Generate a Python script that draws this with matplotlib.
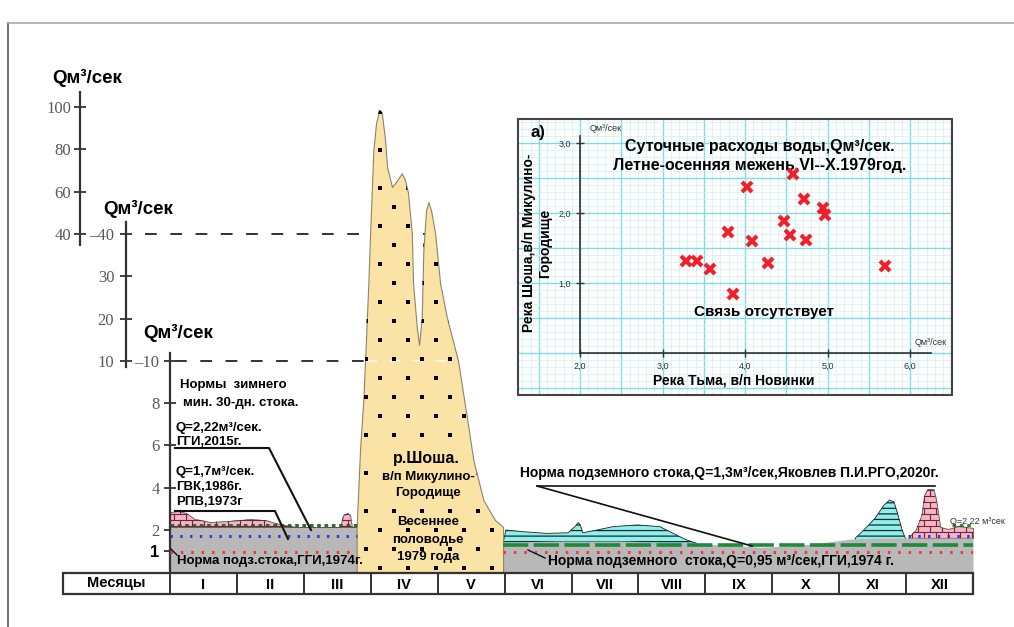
import numpy as np
import matplotlib
matplotlib.use("Agg")
import matplotlib.pyplot as plt
from matplotlib.collections import LineCollection
from matplotlib.patches import Rectangle

plt.rcParams['font.family'] = ['Liberation Sans', 'DejaVu Sans']
plt.rcParams['hatch.linewidth'] = 0.9

# ---------------- data ----------------
# months counted from 1 January (0..12); discharge Q, m3/s
months = ['I', 'II', 'III', 'IV', 'V', 'VI', 'VII', 'VIII', 'IX', 'X', 'XI', 'XII']

# winter low flow (I-III)
winter_t = [0.0, 0.12, 0.24, 0.37, 0.60, 0.90, 1.20, 1.42, 1.64, 1.87, 2.54, 2.59, 2.65, 2.69, 2.72, 2.79]
winter_top = [2.84, 2.89, 2.80, 2.51, 2.37, 2.42, 2.51, 2.46, 2.27, 2.13, 2.13, 2.70, 2.80, 2.70, 2.13, 2.13]
winter_base = 2.13

# spring flood 1979 (IV-V)
flood_t = [2.79, 2.80, 2.84, 2.889, 2.915, 2.964, 2.99, 3.039, 3.079, 3.129, 3.164, 3.214,
           3.244, 3.318, 3.378, 3.463, 3.513, 3.557, 3.613, 3.632, 3.688, 3.722, 3.762,
           3.786, 3.827, 3.861, 3.90, 3.961, 4.036, 4.136, 4.305, 4.435, 4.533, 4.683,
           4.858, 4.978]
flood_q = [2.13, 2.94, 5.78, 8.15, 10.0, 28.4, 40.0, 79.7, 92.4, 98.6, 97.5, 84.4,
           71.6, 62.2, 64.6, 68.7, 65.4, 59.4, 40.5, 28.4, 18.0, 13.8, 20.4,
           36.2, 51.3, 55.1, 51.3, 40.5, 28.4, 20.4, 10.0, 7.36, 5.31, 3.41,
           2.46, 2.13]

# summer-autumn base flow (VI-XII)
summer_t = [4.98, 5.85, 6.75, 7.80, 8.25, 8.82, 9.27, 9.71, 10.16, 10.61, 12.0]
summer_base = [1.42, 1.47, 1.47, 1.37, 1.28, 1.18, 1.23, 1.37, 1.56, 1.61, 1.61]

# rain floods
rain_t = [4.98, 5.02, 5.28, 5.63, 5.95, 6.05, 6.10, 6.13, 6.17, 6.38, 6.62, 6.98, 7.32, 7.52, 7.72, 7.87]
rain_q = [1.42, 1.99, 1.91, 1.83, 1.86, 2.15, 2.34, 2.23, 1.86, 1.99, 2.15, 2.23, 2.15, 1.83, 1.52, 1.36]
autumn_t = [10.24, 10.40, 10.54, 10.66, 10.75, 10.82, 10.88, 10.94, 10.99]
autumn_q = [1.60, 2.09, 2.56, 3.13, 3.41, 3.32, 2.70, 1.99, 1.60]

# december (ice) flow
dec_t = [11.03, 11.14, 11.23, 11.27, 11.32, 11.41, 11.45, 11.51, 11.63, 11.78, 12.0]
dec_q = [1.61, 1.99, 2.70, 3.65, 3.93, 3.93, 3.41, 2.13, 2.04, 2.18, 2.09]
dec_base = 1.61

# norms of discharge
norm_ggi_2015 = 2.22
norm_gvk_1986 = 1.7
norm_ggi_1974 = 0.95
norm_rgo_2020 = 1.3

# axis ticks
lower_ticks = [1, 2, 4, 6, 8, 10]
mid_ticks = [10, 20, 30, 40]
top_ticks = [40, 60, 80, 100]

# inset: daily discharges, summer-autumn low water 1979
tma_q = [3.29, 3.42, 3.57, 3.79, 3.85, 4.02, 4.08, 4.28, 4.47, 4.54, 4.58, 4.72, 4.74, 4.94, 4.97, 5.70]
shosha_q = [1.32, 1.32, 1.20, 1.73, 0.85, 2.37, 1.60, 1.29, 1.89, 1.69, 2.56, 2.20, 1.62, 2.07, 1.97, 1.24]

# ---------------- layout ----------------
W, H = 1014, 627
fig = plt.figure(figsize=(W / 100, H / 100), dpi=100)


def fpos(x0, y0, x1, y1):
    return [x0 / W, 1 - y1 / H, (x1 - x0) / W, (y1 - y0) / H]


# broken (piecewise) vertical scale: 0-10, 10-40, 40-100
def fwd(v):
    v = np.asarray(v, dtype=float)
    return np.where(v <= 10, v * 21.1,
                    np.where(v <= 40, 211 + (v - 10) * 4.23, 338 + (v - 40) * 2.117))


def inv(h):
    h = np.asarray(h, dtype=float)
    return np.where(h <= 211, h / 21.1,
                    np.where(h <= 338, 10 + (h - 211) / 4.23, 40 + (h - 338) / 2.117))


X0, X1, Y0 = 170, 973, 572
ymax = float(inv(Y0))
mw = (X1 - X0) / 12.0

GRAY = '#b8b8b8'
YELLOW = '#fbe3a6'
PINK = '#f6b4c6'
CYAN = '#8af2ee'


def yaxis(offset_px, ticks, labels, bounds, pad):
    a = fig.add_axes(fpos(X0, 0, X1, Y0))
    a.set_yscale('function', functions=(fwd, inv))
    a.set_xlim(0, 12)
    a.set_ylim(0, ymax)
    a.patch.set_visible(False)
    for s in ['top', 'right', 'bottom']:
        a.spines[s].set_visible(False)
    a.spines['left'].set_position(('axes', offset_px / (X1 - X0)))
    a.spines['left'].set_bounds(*bounds)
    a.spines['left'].set_linewidth(1.6)
    a.spines['left'].set_color('#333333')
    a.set_xticks([])
    a.set_yticks(ticks, labels)
    a.minorticks_off()
    a.tick_params(axis='y', direction='inout', length=9, width=1.3, color='#333333',
                  pad=pad, labelsize=12, labelcolor='#5a5a5a')
    for t in a.get_yticklabels():
        t.set_family(['Liberation Serif', 'DejaVu Serif'])
    return a


ax_top = yaxis(80 - X0, top_ticks, [str(t) for t in top_ticks], (37.5, 107), 2)
ax_mid = yaxis(126 - X0, mid_ticks, ['10', '20', '30', '\u201340'], (9.7, 45.5), 4)
ax = yaxis(0, lower_ticks, ['1', '2', '4', '6', '8', '\u201310'], (0, 11.9), 3)
lab1 = ax.get_yticklabels()[0]
lab1.set_family(['Liberation Sans', 'DejaVu Sans'])
lab1.set_fontweight('bold')
lab1.set_color('black')

# dashed guide lines at the scale breaks
ax.hlines(40, (145 - X0) / mw, 3.99, colors='#222222', lw=1.3,
          linestyles=(0, (6.5, 7.5)), clip_on=False, zorder=1)
ax.hlines(10, (175 - X0) / mw, 4.30, colors='#222222', lw=1.3,
          linestyles=(0, (6.5, 7.5)), clip_on=False, zorder=1)

# winter
ax.fill_between(winter_t, 0, winter_base, color=GRAY, lw=0, zorder=2)
pink_w = ax.fill_between(winter_t, winter_base, winter_top, facecolor=PINK,
                         edgecolor='#555555', lw=0.6, zorder=2)
# spring flood
yel = ax.fill_between(flood_t, 0, flood_q, facecolor=YELLOW, edgecolor='#8c8468',
                      lw=0.8, zorder=3)
ax.hlines(10, 2.93, 4.29, colors='white', lw=1.2, linestyles=(0, (6.5, 7.5)),
          alpha=0.8, zorder=3.2)
# summer - autumn
ax.fill_between(rain_t, 0, rain_q, facecolor=CYAN, edgecolor='#222222', hatch='---',
                lw=0.6, zorder=2)
ax.fill_between(autumn_t, 0, autumn_q, facecolor=CYAN, edgecolor='#222222', hatch='---',
                lw=0.6, zorder=2)
ax.fill_between(summer_t, 0, summer_base, color=GRAY, lw=0, zorder=2.5)
pink_d = ax.fill_between(dec_t, dec_base, dec_q, facecolor=PINK,
                         edgecolor='#555555', lw=0.6, zorder=2)

# norm lines
wt = [winter_t[0], winter_t[-1]]
ax.plot(wt, [norm_ggi_2015] * 2, color='#2f6b35', lw=2.2, ls=(0, (1.2, 1.2)), zorder=4)
ax.plot(wt, [norm_gvk_1986] * 2, color='#2b3fe0', lw=2.2, ls=(0, (0.8, 2.4)), zorder=4)
ax.plot(wt, [norm_ggi_1974] * 2, color='#f03a3a', lw=2.2, ls=(0, (0.8, 2.6)), zorder=4)
st = [summer_t[0], summer_t[-1]]
ax.plot(st, [norm_rgo_2020] * 2, color='#1f8a3c', lw=2.6, ls=(0, (7, 1.5)), zorder=4)
ax.plot(st, [norm_ggi_1974] * 2, color='#f03a3a', lw=2.2, ls=(0, (0.8, 2.6)), zorder=4)
ax.plot([dec_t[0], dec_t[-1]], [norm_gvk_1986] * 2, color='#2b3fe0', lw=2.2,
        ls=(0, (0.8, 2.4)), zorder=4)
ax.plot([11.68, dec_t[-1]], [norm_ggi_2015] * 2, color='#2f8a3c', lw=2.2,
        ls=(0, (1.2, 1.2)), zorder=4)

# ---------------- overlay in pixel coordinates ----------------
ov = fig.add_axes([0, 0, 1, 1])
ov.set_xlim(0, W)
ov.set_ylim(H, 0)
ov.axis('off')
ov.patch.set_visible(False)

# frame lines of the sheet
ov.plot([8, 8], [23, H], color='#777777', lw=1.5)
ov.plot([8, W], [23, 23], color='#aaaaaa', lw=1.2)

# dot pattern in the flood
gy = np.arange(112, 575, 19)
dots_x, dots_y = [], []
text_rows = [458, 477, 493, 522, 540, 557]
for i, yy in enumerate(gy):
    for xx in np.arange(352 + (i % 2) * 14, 510, 28):
        if any(abs(yy - r) < 8 for r in text_rows) and 372 < xx < 476:
            continue
        dots_x.append(xx)
        dots_y.append(yy)
dl, = ov.plot(dots_x, dots_y, 's', ms=2.4, mew=0, color='black', zorder=1)
dl.set_clip_path(yel.get_paths()[0], ax.transData)


# brick pattern on the ice periods
def bricks(coll, x0, x1, y0, y1):
    segs = []
    for i, yy in enumerate(np.arange(y0, y1, 6)):
        segs.append([(x0, yy), (x1, yy)])
        for xx in np.arange(x0 + (i % 2) * 6, x1, 12):
            segs.append([(xx, yy), (xx, yy + 6)])
    lc = LineCollection(segs, colors='#6a2a35', linewidths=0.8, zorder=1)
    ov.add_collection(lc)
    lc.set_clip_path(coll.get_paths()[0], ax.transData)


bricks(pink_w, 168, 360, 484, 530)
bricks(pink_d, 900, 980, 484, 540)

bold = dict(fontweight='bold', color='black')
# axis units
ov.text(52, 78, 'Qм³/сек', fontsize=13.5, va='center', **bold)
ov.text(103, 209, 'Qм³/сек', fontsize=13.5, va='center', **bold)
ov.text(143, 333, 'Qм³/сек', fontsize=13.5, va='center', **bold)

# winter notes
ov.text(180, 385, 'Нормы  зимнего', fontsize=9.5, va='center', **bold)
ov.text(183, 403, 'мин. 30-дн. стока.', fontsize=9.5, va='center', **bold)
ov.text(176, 428, 'Q=2,22м³/сек.', fontsize=9.5, va='center', **bold)
ov.text(176, 442, 'ГГИ,2015г.', fontsize=9.5, va='center', **bold)
ov.text(176, 472, 'Q=1,7м³/сек.', fontsize=9.5, va='center', **bold)
ov.text(176, 487, 'ГВК,1986г.', fontsize=9.5, va='center', **bold)
ov.text(176, 502, 'РПВ,1973г', fontsize=9.5, va='center', **bold)
ov.text(177, 561, 'Норма подз.стока,ГГИ,1974г.', fontsize=9.5, va='center', zorder=5, **bold)
ov.plot([175, 269, 311], [448, 448, 530], color='#111111', lw=1.5)
ov.plot([175, 275, 288], [511, 511, 539], color='#111111', lw=1.5)
ov.plot([171, 177], [549, 555], color='#111111', lw=1.0)

# flood notes
ov.text(426, 458, 'р.Шоша.', fontsize=11.5, ha='center', va='center', **bold)
for y, s in zip([477, 493, 522, 540, 557],
                ['в/п Микулино-', 'Городище', 'Весеннее', 'половодье', '1979 года']):
    ov.text(428, y, s, fontsize=9.5, ha='center', va='center', **bold)

# summer notes
ov.text(520, 473, 'Норма подземного стока,Q=1,3м³/сек,Яковлев П.И.РГО,2020г.',
        fontsize=10, va='center', **bold)
ov.plot([537, 935], [486, 486], color='#111111', lw=1.2)
ov.plot([537, 752], [486, 546], color='#111111', lw=1.2)
ov.text(548, 561, 'Норма подземного  стока,Q=0,95 м³/сек,ГГИ,1974 г.',
        fontsize=10, va='center', zorder=5, **bold)
ov.plot([528, 545], [550, 558], color='#111111', lw=1.0)
ov.text(950, 521, 'Q=2 22 м³сек', fontsize=6.5, va='center', color='#333333')

# ---------------- months table ----------------
axt = fig.add_axes(fpos(63, 573, 973, 594))
axt.set_xlim(-(X0 - 63) / mw, 12)
axt.set_ylim(0, 1)
axt.axis('off')
axt.add_patch(Rectangle((-(X0 - 63) / mw, 0), 12 + (X0 - 63) / mw, 1, facecolor='white',
                        edgecolor='#333333', lw=1.6, clip_on=False))
axt.vlines(np.arange(0, 12), 0, 1, colors='#333333', lw=1.4)
axt.text(-(X0 - 63) / mw / 2, 0.5, 'Месяцы', ha='center', va='center', fontsize=10.5, **bold)
for i, m in enumerate(months):
    axt.text(i + 0.5, 0.45, m, ha='center', va='center', fontsize=10.5, **bold)

# ---------------- inset scatter ----------------
ai = fig.add_axes(fpos(518, 119, 952, 395))
ai.set_xlim(1.248, 6.509)
ai.set_ylim(-0.6, 3.343)
ai.set_facecolor('white')
for xv in np.arange(1.3, 6.51, 0.1):
    major = abs(xv * 2 - round(xv * 2)) < 1e-6
    ai.axvline(xv, color='#7fdce6' if major else '#cdeff4', lw=1.0 if major else 0.5, zorder=0)
for yv in np.arange(-0.6, 3.34, 0.1):
    major = abs(yv * 2 - round(yv * 2)) < 1e-6
    ai.axhline(yv, color='#7fdce6' if major else '#cdeff4', lw=1.0 if major else 0.5, zorder=0)
for s in ['top', 'right']:
    ai.spines[s].set_visible(False)
ai.spines['left'].set_position(('data', 2.0))
ai.spines['bottom'].set_position(('data', 0.0))
ai.spines['left'].set_bounds(0, 3.1)
ai.spines['bottom'].set_bounds(2.0, 6.25)
for s in ['left', 'bottom']:
    ai.spines[s].set_color('#333333')
    ai.spines[s].set_linewidth(1.2)
ai.set_xticks([2, 3, 4, 5, 6], ['2,0', '3,0', '4,0', '5,0', '6,0'])
ai.set_yticks([1, 2, 3], ['1,0', '2,0', '3,0'])
ai.tick_params(direction='inout', length=6, width=1, colors='#333333', labelsize=6.5)
ai.add_patch(Rectangle((0, 0), 1, 1, transform=ai.transAxes, fill=False,
                       edgecolor='#444444', lw=1.5, clip_on=False, zorder=5))
ai.plot(tma_q, shosha_q, 'x', color='#f0202a', ms=6.5, mew=3, zorder=4)

ai.text(0.028, 0.95, 'а)', transform=ai.transAxes, fontsize=12, va='center', **bold)
ai.text(0.166, 0.967, 'Qм³/сек', transform=ai.transAxes, fontsize=6.5, va='center',
        color='#333333')
ai.text(0.915, 0.19, 'Qм³/сек', transform=ai.transAxes, fontsize=6.5, va='center',
        color='#333333')
ai.text(0.557, 0.902, 'Суточные расходы воды,Qм³/сек.', transform=ai.transAxes,
        fontsize=11.5, ha='center', va='center', **bold)
ai.text(0.557, 0.833, 'Летне-осенняя межень,VI--X.1979год.', transform=ai.transAxes,
        fontsize=11.5, ha='center', va='center', **bold)
ai.text(0.567, 0.30, 'Связь отсутствует', transform=ai.transAxes,
        fontsize=11, ha='center', va='center', **bold)
ai.text(0.498, 0.051, 'Река Тьма, в/п Новинки', transform=ai.transAxes,
        fontsize=10, ha='center', va='center', **bold)
ai.text(0.043, 0.55, 'Река Шоша,в/п Микулино-\nГородище', transform=ai.transAxes,
        fontsize=10, ha='center', va='center', rotation=90, linespacing=1.2, **bold)

fig.savefig('out.png', dpi=100)
